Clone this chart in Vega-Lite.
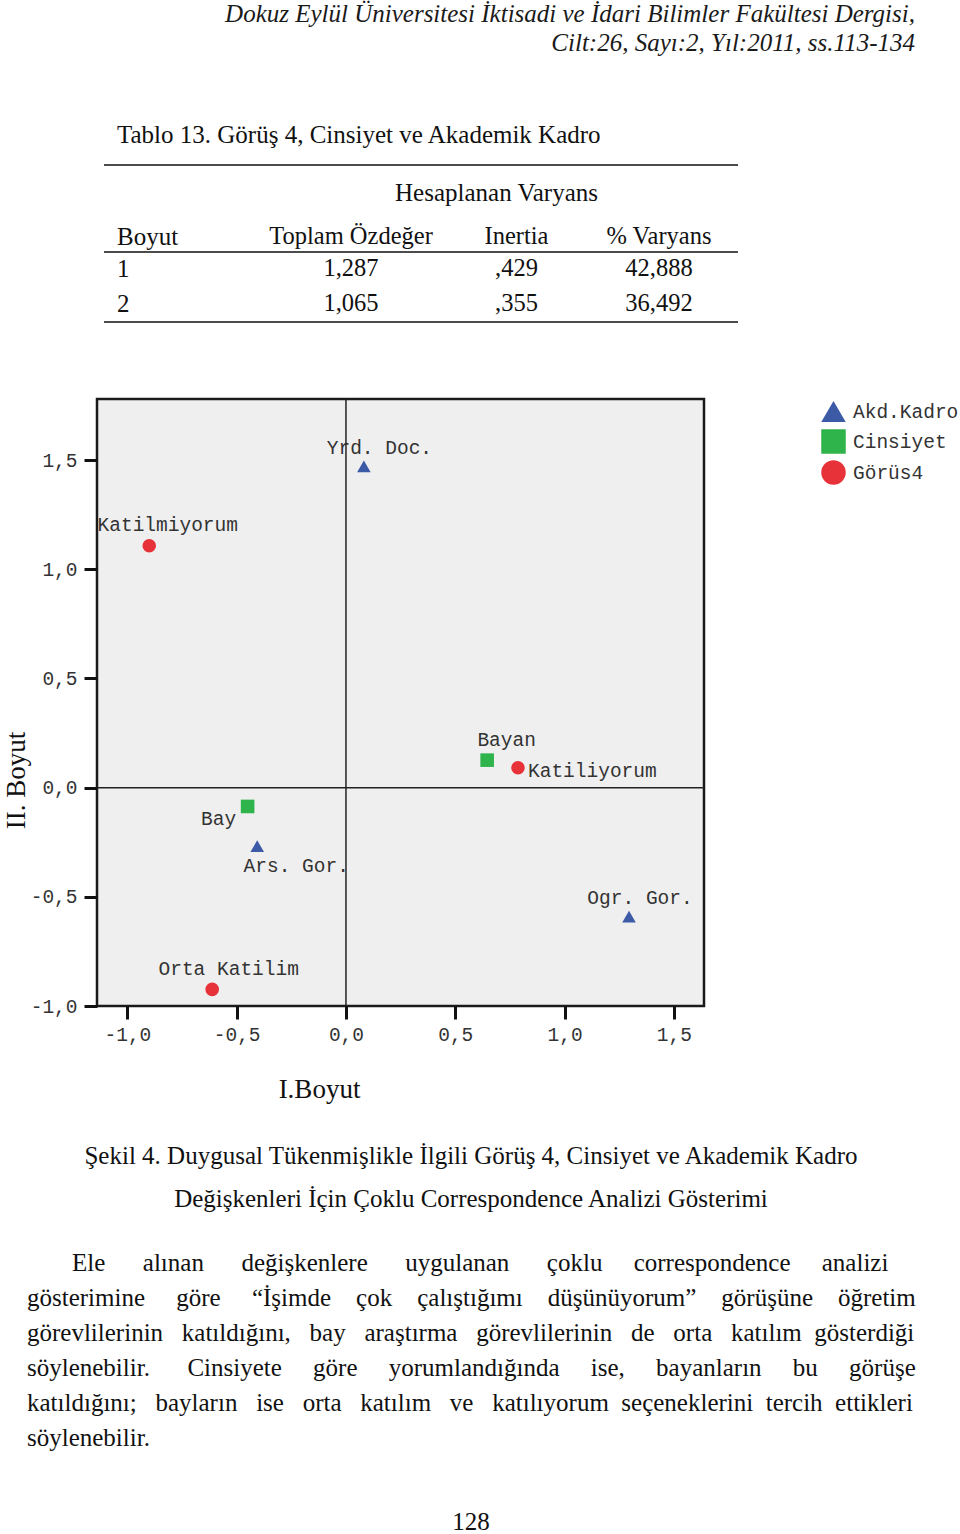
{
  "$schema": "https://vega.github.io/schema/vega-lite/v6.json",
  "width": 607,
  "height": 607,
  "autosize": {"type": "none"},
  "padding": {"left": 97, "top": 399, "right": 256, "bottom": 528},
  "background": "white",
  "config": {
    "view": {"fill": "#efefef", "stroke": "#1a1a1a", "strokeWidth": 2.5}
  },
  "datasets": {
    "points": [
      {"label": "Katilmiyorum", "group": "Görüs4", "dim1": -0.900, "dim2": 1.108},
      {"label": "Katiliyorum", "group": "Görüs4", "dim1": 0.787, "dim2": 0.091},
      {"label": "Orta Katilim", "group": "Görüs4", "dim1": -0.612, "dim2": -0.924},
      {"label": "Bay", "group": "Cinsiyet", "dim1": -0.450, "dim2": -0.086},
      {"label": "Bayan", "group": "Cinsiyet", "dim1": 0.646, "dim2": 0.126},
      {"label": "Yrd. Doc.", "group": "Akd.Kadro", "dim1": 0.082, "dim2": 1.471},
      {"label": "Ars. Gor.", "group": "Akd.Kadro", "dim1": -0.406, "dim2": -0.268},
      {"label": "Ogr. Gor.", "group": "Akd.Kadro", "dim1": 1.295, "dim2": -0.591}
    ],
    "origin": [{"origin": 0}],
    "header": [
      {"line": 1, "col": 1, "text": "Dokuz Eylül Üniversitesi İktisadi ve İdari Bilimler Fakültesi Dergisi,"},
      {"line": 2, "col": 1, "text": "Cilt:26, Sayı:2, Yıl:2011, ss.113-134"}
    ],
    "table": [
      {"row": 0, "col": 0, "text": "Tablo 13. Görüş 4, Cinsiyet ve Akademik Kadro"},
      {"row": 1, "col": 2, "text": "Hesaplanan Varyans"},
      {"row": 2, "col": 0, "text": "Boyut"},
      {"row": 2, "col": 1, "text": "Toplam Özdeğer"},
      {"row": 2, "col": 2, "text": "Inertia"},
      {"row": 2, "col": 3, "text": "% Varyans"},
      {"row": 3, "col": 0, "text": "1"},
      {"row": 3, "col": 1, "text": "1,287"},
      {"row": 3, "col": 2, "text": ",429"},
      {"row": 3, "col": 3, "text": "42,888"},
      {"row": 4, "col": 0, "text": "2"},
      {"row": 4, "col": 1, "text": "1,065"},
      {"row": 4, "col": 2, "text": ",355"},
      {"row": 4, "col": 3, "text": "36,492"}
    ],
    "tableRules": [
      {"rule": 0, "start": 0, "end": 1},
      {"rule": 1, "start": 0, "end": 1},
      {"rule": 2, "start": 0, "end": 1}
    ],
    "caption": [
      {"line": 1, "col": 1, "text": "Şekil 4. Duygusal Tükenmişlikle İlgili Görüş 4, Cinsiyet ve Akademik Kadro"},
      {"line": 2, "col": 1, "text": "Değişkenleri İçin Çoklu Correspondence Analizi Gösterimi"},
      {"line": 3, "col": 1, "text": "128"}
    ],
    "paragraph": [
      {"line": 1, "col": 1, "text": "Ele\u00a0\u00a0\u00a0\u00a0\u00a0\u00a0alınan\u00a0\u00a0\u00a0\u00a0\u00a0\u00a0değişkenlere\u00a0\u00a0\u00a0\u00a0\u00a0\u00a0uygulanan\u00a0\u00a0\u00a0\u00a0\u00a0\u00a0çoklu\u00a0\u00a0\u00a0\u00a0\u00a0correspondence\u00a0\u00a0\u00a0\u00a0\u00a0analizi"},
      {"line": 2, "col": 0, "text": "gösterimine\u00a0\u00a0\u00a0\u00a0\u00a0göre\u00a0\u00a0\u00a0\u00a0\u00a0“İşimde\u00a0\u00a0\u00a0\u00a0çok\u00a0\u00a0\u00a0\u00a0çalıştığımı\u00a0\u00a0\u00a0\u00a0düşünüyorum”\u00a0\u00a0\u00a0\u00a0görüşüne\u00a0\u00a0\u00a0\u00a0öğretim"},
      {"line": 3, "col": 0, "text": "görevlilerinin\u00a0\u00a0\u00a0katıldığını,\u00a0\u00a0\u00a0bay\u00a0\u00a0\u00a0araştırma\u00a0\u00a0\u00a0görevlilerinin\u00a0\u00a0\u00a0de\u00a0\u00a0\u00a0orta\u00a0\u00a0\u00a0katılım\u00a0\u00a0gösterdiği"},
      {"line": 4, "col": 0, "text": "söylenebilir.\u00a0\u00a0\u00a0\u00a0\u00a0\u00a0Cinsiyete\u00a0\u00a0\u00a0\u00a0\u00a0göre\u00a0\u00a0\u00a0\u00a0\u00a0yorumlandığında\u00a0\u00a0\u00a0\u00a0\u00a0ise,\u00a0\u00a0\u00a0\u00a0\u00a0bayanların\u00a0\u00a0\u00a0\u00a0\u00a0bu\u00a0\u00a0\u00a0\u00a0\u00a0görüşe"},
      {"line": 5, "col": 0, "text": "katıldığını;\u00a0\u00a0\u00a0bayların\u00a0\u00a0\u00a0ise\u00a0\u00a0\u00a0orta\u00a0\u00a0\u00a0katılım\u00a0\u00a0\u00a0ve\u00a0\u00a0\u00a0katılıyorum\u00a0\u00a0seçeneklerini\u00a0\u00a0tercih\u00a0\u00a0ettikleri"},
      {"line": 6, "col": 0, "text": "söylenebilir."}
    ]
  },
  "resolve": {"scale": {"x": "independent", "y": "independent"}},
  "layer": [
    {
      "layer": [
        {
          "data": {"name": "points"},
          "encoding": {
            "x": {
              "field": "dim1", "type": "quantitative",
              "scale": {"domain": [-1.139, 1.638], "nice": false, "zero": false},
              "axis": {
                "values": [-1, -0.5, 0, 0.5, 1, 1.5],
                "labelExpr": "(datum.value < 0 ? '-' : '') + replace(format(abs(datum.value), '.1f'), '.', ',')",
                "domain": false, "grid": false,
                "tickSize": 13, "tickWidth": 3, "tickColor": "#111111",
                "labelFont": "Liberation Mono", "labelFontSize": 19.5, "labelColor": "#333333", "labelPadding": 6,
                "title": "I.Boyut", "titleFont": "Liberation Serif", "titleFontSize": 27, "titleFontWeight": "normal",
                "titleColor": "#111111", "titleX": 222, "titleY": 83, "titleAlign": "center", "titleBaseline": "middle"
              }
            },
            "y": {
              "field": "dim2", "type": "quantitative",
              "scale": {"domain": [-1.0, 1.78], "nice": false, "zero": false},
              "axis": {
                "values": [-1, -0.5, 0, 0.5, 1, 1.5],
                "labelExpr": "(datum.value < 0 ? '-' : '') + replace(format(abs(datum.value), '.1f'), '.', ',')",
                "domain": false, "grid": false,
                "tickSize": 13, "tickWidth": 3, "tickColor": "#111111",
                "labelFont": "Liberation Mono", "labelFontSize": 19.5, "labelColor": "#333333", "labelPadding": 7,
                "title": "II. Boyut", "titleFont": "Liberation Serif", "titleFontSize": 27, "titleFontWeight": "normal",
                "titleColor": "#111111", "titleX": -81, "titleY": 381, "titleAngle": -90, "titleAlign": "center", "titleBaseline": "middle"
              }
            }
          },
          "layer": [
            {
              "mark": {"type": "point", "filled": true, "opacity": 1, "size": 185},
              "encoding": {
                "shape": {
                  "field": "group", "type": "nominal",
                  "scale": {"domain": ["Akd.Kadro", "Cinsiyet", "Görüs4"], "range": ["triangle-up", "square", "circle"]},
                  "legend": {"title": null, "orient": "none", "legendX": 724, "legendY": 0, "symbolSize": 600, "symbolStrokeWidth": 0, "symbolOpacity": 1, "labelFont": "Liberation Mono", "labelFontSize": 19.5, "labelColor": "#333333", "labelOffset": 7, "rowPadding": 6, "padding": 0}
                },
                "color": {
                  "field": "group", "type": "nominal",
                  "scale": {"domain": ["Akd.Kadro", "Cinsiyet", "Görüs4"], "range": ["#3c5aa6", "#2fb34b", "#e8323a"]},
                  "legend": {"title": null, "orient": "none", "legendX": 724, "legendY": 0, "symbolSize": 600, "symbolStrokeWidth": 0, "symbolOpacity": 1, "labelFont": "Liberation Mono", "labelFontSize": 19.5, "labelColor": "#333333", "labelOffset": 7, "rowPadding": 6, "padding": 0}
                }
              }
            },
            {"transform": [{"filter": "datum.label === 'Katilmiyorum'"}], "mark": {"type": "text", "font": "Liberation Mono", "fontSize": 19.5, "color": "#333333", "align": "center", "baseline": "middle", "dx": 18.5, "dy": -21}, "encoding": {"text": {"field": "label"}}},
            {"transform": [{"filter": "datum.label === 'Yrd. Doc.'"}], "mark": {"type": "text", "font": "Liberation Mono", "fontSize": 19.5, "color": "#333333", "align": "center", "baseline": "middle", "dx": 15.5, "dy": -18.5}, "encoding": {"text": {"field": "label"}}},
            {"transform": [{"filter": "datum.label === 'Bayan'"}], "mark": {"type": "text", "font": "Liberation Mono", "fontSize": 19.5, "color": "#333333", "align": "center", "baseline": "middle", "dx": 19.5, "dy": -20.5}, "encoding": {"text": {"field": "label"}}},
            {"transform": [{"filter": "datum.label === 'Katiliyorum'"}], "mark": {"type": "text", "font": "Liberation Mono", "fontSize": 19.5, "color": "#333333", "align": "left", "baseline": "middle", "dx": 10, "dy": 3.5}, "encoding": {"text": {"field": "label"}}},
            {"transform": [{"filter": "datum.label === 'Bay'"}], "mark": {"type": "text", "font": "Liberation Mono", "fontSize": 19.5, "color": "#333333", "align": "center", "baseline": "middle", "dx": -29, "dy": 13}, "encoding": {"text": {"field": "label"}}},
            {"transform": [{"filter": "datum.label === 'Ars. Gor.'"}], "mark": {"type": "text", "font": "Liberation Mono", "fontSize": 19.5, "color": "#333333", "align": "center", "baseline": "middle", "dx": 39, "dy": 19.5}, "encoding": {"text": {"field": "label"}}},
            {"transform": [{"filter": "datum.label === 'Orta Katilim'"}], "mark": {"type": "text", "font": "Liberation Mono", "fontSize": 19.5, "color": "#333333", "align": "center", "baseline": "middle", "dx": 16.5, "dy": -20.5}, "encoding": {"text": {"field": "label"}}},
            {"transform": [{"filter": "datum.label === 'Ogr. Gor.'"}], "mark": {"type": "text", "font": "Liberation Mono", "fontSize": 19.5, "color": "#333333", "align": "center", "baseline": "middle", "dx": 11, "dy": -19}, "encoding": {"text": {"field": "label"}}}
          ]
        },
        {
          "data": {"name": "origin"},
          "mark": {"type": "rule", "color": "#222222", "strokeWidth": 1.5},
          "encoding": {"x": {"field": "origin", "type": "quantitative"}}
        },
        {
          "data": {"name": "origin"},
          "mark": {"type": "rule", "color": "#222222", "strokeWidth": 1.5},
          "encoding": {"y": {"field": "origin", "type": "quantitative"}}
        }
      ]
    },
    {
      "data": {"name": "header"},
      "mark": {"type": "text", "font": "Liberation Serif", "fontStyle": "italic", "fontSize": 25, "color": "#1a1a1a", "align": "right", "baseline": "middle"},
      "encoding": {
        "x": {"field": "col", "type": "quantitative", "scale": {"domain": [0, 1], "range": [0, 818]}, "axis": null},
        "y": {"field": "line", "type": "quantitative", "scale": {"domain": [1, 2], "range": [-385, -356]}, "axis": null},
        "text": {"field": "text"}
      }
    },
    {
      "data": {"name": "table"},
      "transform": [{"filter": "datum.col === 0"}],
      "mark": {"type": "text", "font": "Liberation Serif", "fontSize": 25, "color": "#111111", "align": "left", "baseline": "middle"},
      "encoding": {
        "x": {"field": "col", "type": "quantitative", "scale": {"domain": [0, 1, 2, 3], "range": [20, 254, 419.5, 562]}, "axis": null},
        "y": {"field": "row", "type": "quantitative", "scale": {"domain": [0, 1, 2, 3, 4], "range": [-264, -206, -162, -130, -95]}, "axis": null},
        "text": {"field": "text"}
      }
    },
    {
      "data": {"name": "table"},
      "transform": [{"filter": "datum.col > 0 && datum.row > 1"}],
      "mark": {"type": "text", "font": "Liberation Serif", "fontSize": 24.5, "color": "#111111", "align": "center", "baseline": "middle"},
      "encoding": {
        "x": {"field": "col", "type": "quantitative", "scale": {"domain": [0, 1, 2, 3], "range": [20, 254, 419.5, 562]}, "axis": null},
        "y": {"field": "row", "type": "quantitative", "scale": {"domain": [0, 1, 2, 3, 4], "range": [-264, -206, -162, -130, -95]}, "axis": null},
        "text": {"field": "text"}
      }
    },
    {
      "data": {"name": "table"},
      "transform": [{"filter": "datum.row === 1"}],
      "mark": {"type": "text", "font": "Liberation Serif", "fontSize": 25, "color": "#111111", "align": "center", "baseline": "middle", "dx": -20},
      "encoding": {
        "x": {"field": "col", "type": "quantitative", "scale": {"domain": [0, 1, 2, 3], "range": [20, 254, 419.5, 562]}, "axis": null},
        "y": {"field": "row", "type": "quantitative", "scale": {"domain": [0, 1, 2, 3, 4], "range": [-264, -206, -162, -130, -95]}, "axis": null},
        "text": {"field": "text"}
      }
    },
    {
      "data": {"name": "tableRules"},
      "mark": {"type": "rule", "color": "#111111", "strokeWidth": 1.6},
      "encoding": {
        "x": {"field": "start", "type": "quantitative", "scale": {"domain": [0, 1], "range": [7, 641]}, "axis": null},
        "x2": {"field": "end"},
        "y": {"field": "rule", "type": "quantitative", "scale": {"domain": [0, 1, 2], "range": [-234, -147, -77]}, "axis": null}
      }
    },
    {
      "data": {"name": "caption"},
      "mark": {"type": "text", "font": "Liberation Serif", "fontSize": 25, "color": "#111111", "align": "center", "baseline": "middle"},
      "encoding": {
        "x": {"field": "col", "type": "quantitative", "scale": {"domain": [0, 1], "range": [0, 374]}, "axis": null},
        "y": {"field": "line", "type": "quantitative", "scale": {"domain": [1, 2, 3], "range": [757, 800, 1123]}, "axis": null},
        "text": {"field": "text"}
      }
    },
    {
      "data": {"name": "paragraph"},
      "mark": {"type": "text", "font": "Liberation Serif", "fontSize": 25, "color": "#111111", "align": "left", "baseline": "middle"},
      "encoding": {
        "x": {"field": "col", "type": "quantitative", "scale": {"domain": [0, 1], "range": [-70, -25]}, "axis": null},
        "y": {"field": "line", "type": "quantitative", "scale": {"domain": [1, 6], "range": [864, 1039]}, "axis": null},
        "text": {"field": "text"}
      }
    }
  ]
}
